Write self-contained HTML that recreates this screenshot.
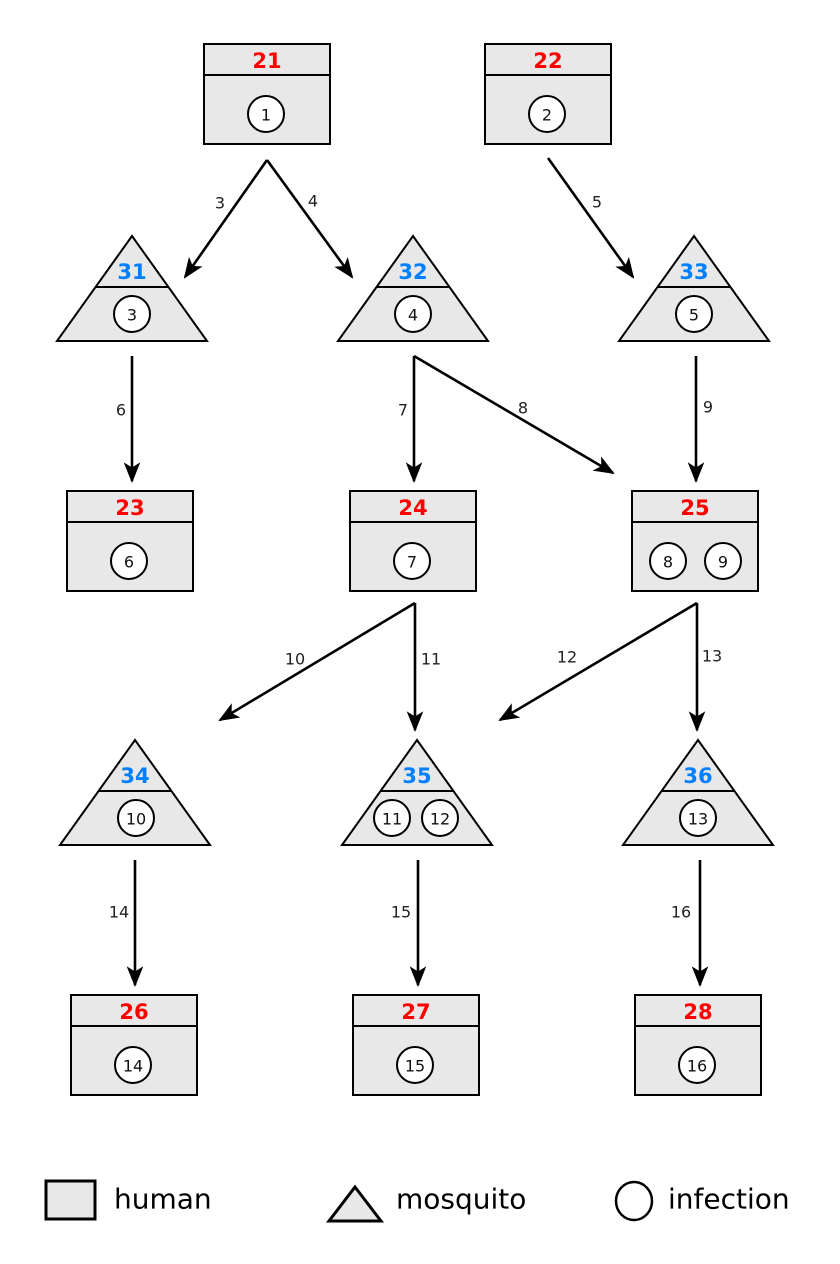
<!DOCTYPE html>
<html><head><meta charset="utf-8"><style>
html,body{margin:0;padding:0;background:#fff}
svg{display:block}
text{font-family:"DejaVu Sans","Liberation Sans",sans-serif}
.n{font-size:16px;fill:#111;text-anchor:middle;dominant-baseline:central}
.h{font-size:21px;font-weight:bold;fill:#ff0000;text-anchor:middle;dominant-baseline:central}
.m{font-size:21px;font-weight:bold;fill:#0080ff;text-anchor:middle;dominant-baseline:central}
.l{font-size:16px;fill:#222;text-anchor:middle;dominant-baseline:central}
.g{font-size:28px;fill:#000;dominant-baseline:central}
.s{fill:#e8e8e8;stroke:#000;stroke-width:2}
.c{fill:#fff;stroke:#000;stroke-width:2}
.a{stroke:#000;stroke-width:2.6;fill:none;marker-end:url(#ar)}
</style></head><body>
<svg width="840" height="1264" viewBox="0 0 840 1264" xmlns="http://www.w3.org/2000/svg">
<defs>
<marker id="ar" viewBox="0 0 20 20" refX="18" refY="10" markerWidth="8" markerHeight="8" markerUnits="strokeWidth" orient="auto">
<path d="M0,2 L20,10 L0,18 L5,10 Z" fill="#000"/>
</marker>
</defs>

<!-- boxes -->
<g>
<rect class="s" x="204" y="44" width="126" height="100"/><line x1="204" y1="75" x2="330" y2="75" stroke="#000" stroke-width="2"/><text class="h" x="267" y="61">21</text><circle class="c" cx="266" cy="114" r="18"/><text class="n" x="266" y="115">1</text>
<rect class="s" x="485" y="44" width="126" height="100"/><line x1="485" y1="75" x2="611" y2="75" stroke="#000" stroke-width="2"/><text class="h" x="548" y="61">22</text><circle class="c" cx="547" cy="114" r="18"/><text class="n" x="547" y="115">2</text>

<rect class="s" x="67" y="491" width="126" height="100"/><line x1="67" y1="522" x2="193" y2="522" stroke="#000" stroke-width="2"/><text class="h" x="130" y="508">23</text><circle class="c" cx="129" cy="561" r="18"/><text class="n" x="129" y="562">6</text>
<rect class="s" x="350" y="491" width="126" height="100"/><line x1="350" y1="522" x2="476" y2="522" stroke="#000" stroke-width="2"/><text class="h" x="413" y="508">24</text><circle class="c" cx="412" cy="561" r="18"/><text class="n" x="412" y="562">7</text>
<rect class="s" x="632" y="491" width="126" height="100"/><line x1="632" y1="522" x2="758" y2="522" stroke="#000" stroke-width="2"/><text class="h" x="695" y="508">25</text><circle class="c" cx="668" cy="561" r="18"/><text class="n" x="668" y="562">8</text><circle class="c" cx="723" cy="561" r="18"/><text class="n" x="723" y="562">9</text>

<rect class="s" x="71" y="995" width="126" height="100"/><line x1="71" y1="1026" x2="197" y2="1026" stroke="#000" stroke-width="2"/><text class="h" x="134" y="1012">26</text><circle class="c" cx="133" cy="1065" r="18"/><text class="n" x="133" y="1066">14</text>
<rect class="s" x="353" y="995" width="126" height="100"/><line x1="353" y1="1026" x2="479" y2="1026" stroke="#000" stroke-width="2"/><text class="h" x="416" y="1012">27</text><circle class="c" cx="415" cy="1065" r="18"/><text class="n" x="415" y="1066">15</text>
<rect class="s" x="635" y="995" width="126" height="100"/><line x1="635" y1="1026" x2="761" y2="1026" stroke="#000" stroke-width="2"/><text class="h" x="698" y="1012">28</text><circle class="c" cx="697" cy="1065" r="18"/><text class="n" x="697" y="1066">16</text>
</g>

<!-- triangles -->
<g>
<polygon class="s" points="132,236 207,341 57,341"/><line x1="96" y1="287" x2="168" y2="287" stroke="#000" stroke-width="2"/><text class="m" x="132" y="272">31</text><circle class="c" cx="132" cy="314" r="18"/><text class="n" x="132" y="315">3</text>
<polygon class="s" points="413,236 488,341 338,341"/><line x1="377" y1="287" x2="449" y2="287" stroke="#000" stroke-width="2"/><text class="m" x="413" y="272">32</text><circle class="c" cx="413" cy="314" r="18"/><text class="n" x="413" y="315">4</text>
<polygon class="s" points="694,236 769,341 619,341"/><line x1="658" y1="287" x2="730" y2="287" stroke="#000" stroke-width="2"/><text class="m" x="694" y="272">33</text><circle class="c" cx="694" cy="314" r="18"/><text class="n" x="694" y="315">5</text>

<polygon class="s" points="135,740 210,845 60,845"/><line x1="99" y1="791" x2="171" y2="791" stroke="#000" stroke-width="2"/><text class="m" x="135" y="776">34</text><circle class="c" cx="136" cy="818" r="18"/><text class="n" x="136" y="819">10</text>
<polygon class="s" points="417,740 492,845 342,845"/><line x1="381" y1="791" x2="453" y2="791" stroke="#000" stroke-width="2"/><text class="m" x="417" y="776">35</text><circle class="c" cx="392" cy="818" r="18"/><text class="n" x="392" y="819">11</text><circle class="c" cx="440" cy="818" r="18"/><text class="n" x="440" y="819">12</text>
<polygon class="s" points="698,740 773,845 623,845"/><line x1="662" y1="791" x2="734" y2="791" stroke="#000" stroke-width="2"/><text class="m" x="698" y="776">36</text><circle class="c" cx="698" cy="818" r="18"/><text class="n" x="698" y="819">13</text>
</g>

<!-- arrows -->
<g>
<path class="a" d="M267,160 L185,277"/>
<path class="a" d="M267,160 L352,277"/>
<path class="a" d="M548,158 L633,277"/>
<path class="a" d="M132,356 L132,481"/>
<path class="a" d="M414,356 L414,481"/>
<path class="a" d="M414,356 L613,473"/>
<path class="a" d="M696,356 L696,481"/>
<path class="a" d="M415,603 L220,720"/>
<path class="a" d="M415,603 L415,730"/>
<path class="a" d="M697,603 L500,720"/>
<path class="a" d="M697,603 L697,730"/>
<path class="a" d="M135,860 L135,985"/>
<path class="a" d="M418,860 L418,985"/>
<path class="a" d="M700,860 L700,985"/>
</g>

<!-- edge labels -->
<text class="l" x="220" y="203">3</text>
<text class="l" x="313" y="201">4</text>
<text class="l" x="597" y="202">5</text>
<text class="l" x="121" y="410">6</text>
<text class="l" x="403" y="410">7</text>
<text class="l" x="523" y="408">8</text>
<text class="l" x="708" y="407">9</text>
<text class="l" x="295" y="659">10</text>
<text class="l" x="431" y="659">11</text>
<text class="l" x="567" y="657">12</text>
<text class="l" x="712" y="656">13</text>
<text class="l" x="119" y="912">14</text>
<text class="l" x="401" y="912">15</text>
<text class="l" x="681" y="912">16</text>

<!-- legend -->
<rect x="46" y="1181" width="49" height="38" fill="#e8e8e8" stroke="#000" stroke-width="3"/>
<text class="g" x="114" y="1199">human</text>
<polygon points="355,1187 381,1221 329,1221" fill="#e8e8e8" stroke="#000" stroke-width="3"/>
<text class="g" x="396" y="1199">mosquito</text>
<ellipse cx="634" cy="1201" rx="18" ry="19" fill="#fff" stroke="#000" stroke-width="2.5"/>
<text class="g" x="668" y="1199">infection</text>
</svg>
</body></html>
